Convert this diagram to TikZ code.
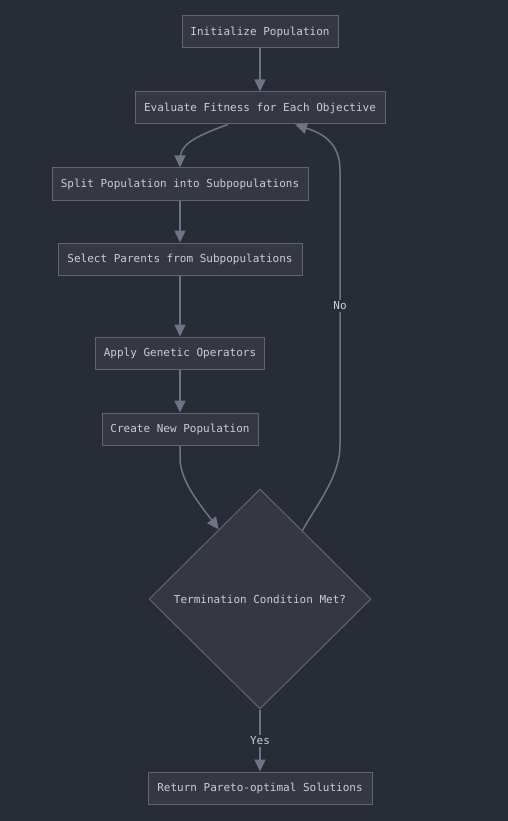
\documentclass[tikz,border=0pt]{standalone}
\usepackage{fontspec}
\setmonofont{DejaVu Sans Mono}
\usetikzlibrary{arrows.meta,shapes.geometric,calc}
\definecolor{bgc}{HTML}{282C34}
\definecolor{boxfill}{HTML}{353842}
\definecolor{boxline}{HTML}{5E6574}
\definecolor{edgec}{HTML}{6C7486}
\definecolor{txtc}{HTML}{C9CED8}
\tikzset{
  procbox/.style={draw=boxline,fill=boxfill,line width=1pt,text=txtc,
    font=\ttfamily\fontsize{11}{12}\selectfont,minimum height=32pt,inner sep=0pt},
  decbox/.style={diamond,draw=boxline,fill=boxfill,line width=1pt,text=txtc,
    font=\ttfamily\fontsize{11}{12}\selectfont,minimum width=222pt,minimum height=220pt,inner sep=0pt},
  flow/.style={draw=edgec,line width=1.5pt,-{Triangle[length=12pt,width=11pt]}},
  elabel/.style={fill=bgc,text=txtc,font=\ttfamily\fontsize{11}{12}\selectfont,inner sep=2pt}
}
\begin{document}
\begin{tikzpicture}[x=1pt,y=-1pt]
\fill[bgc] (0,0) rectangle (508,821);
\useasboundingbox (0,0) rectangle (508,821);
\node[procbox,minimum width=156pt] (init) at (260,32) {Initialize Population};
\node[procbox,minimum width=250pt] (eval) at (260,108) {Evaluate Fitness for Each Objective};
\node[procbox,minimum width=256pt] (split) at (180,184) {Split Population into Subpopulations};
\node[procbox,minimum width=244pt] (sel) at (180,259) {Select Parents from Subpopulations};
\node[procbox,minimum width=169pt] (apply) at (180,353) {Apply Genetic Operators};
\node[procbox,minimum width=156pt] (create) at (180,429) {Create New Population};
\node[decbox] (term) at (260,599) {Termination Condition Met?};
\node[procbox,minimum width=224pt] (ret) at (260,788) {Return Pareto-optimal Solutions};

\coordinate (evalL) at ([xshift=-32pt]eval.south);
\coordinate (evalR) at ([xshift=35pt]eval.south);
\coordinate (termUL) at ($(term.north)!0.37!(term.west)$);
\coordinate (termUR) at ($(term.north)!0.38!(term.east)$);

\draw[flow] (init.south) -- (eval.north);
\draw[flow] (evalL) .. controls (190,138) and (180,146) .. (180,160) -- (split.north);
\draw[flow] (split.south) -- (sel.north);
\draw[flow] (sel.south) -- (apply.north);
\draw[flow] (apply.south) -- (create.north);
\draw[flow] (create.south) -- (180,458) .. controls (180,480) and (198,502) .. (termUL);
\draw[flow] (termUR) .. controls (320,500) and (340,475) .. (340,445) -- (340,170)
  .. controls (340,140) and (318,132) .. (evalR);
\node[elabel] (no) at (340,306) {No};
\draw[flow] (term.south) -- (ret.north);
\node[elabel] (yes) at (260,741) {Yes};
\end{tikzpicture}
\end{document}
